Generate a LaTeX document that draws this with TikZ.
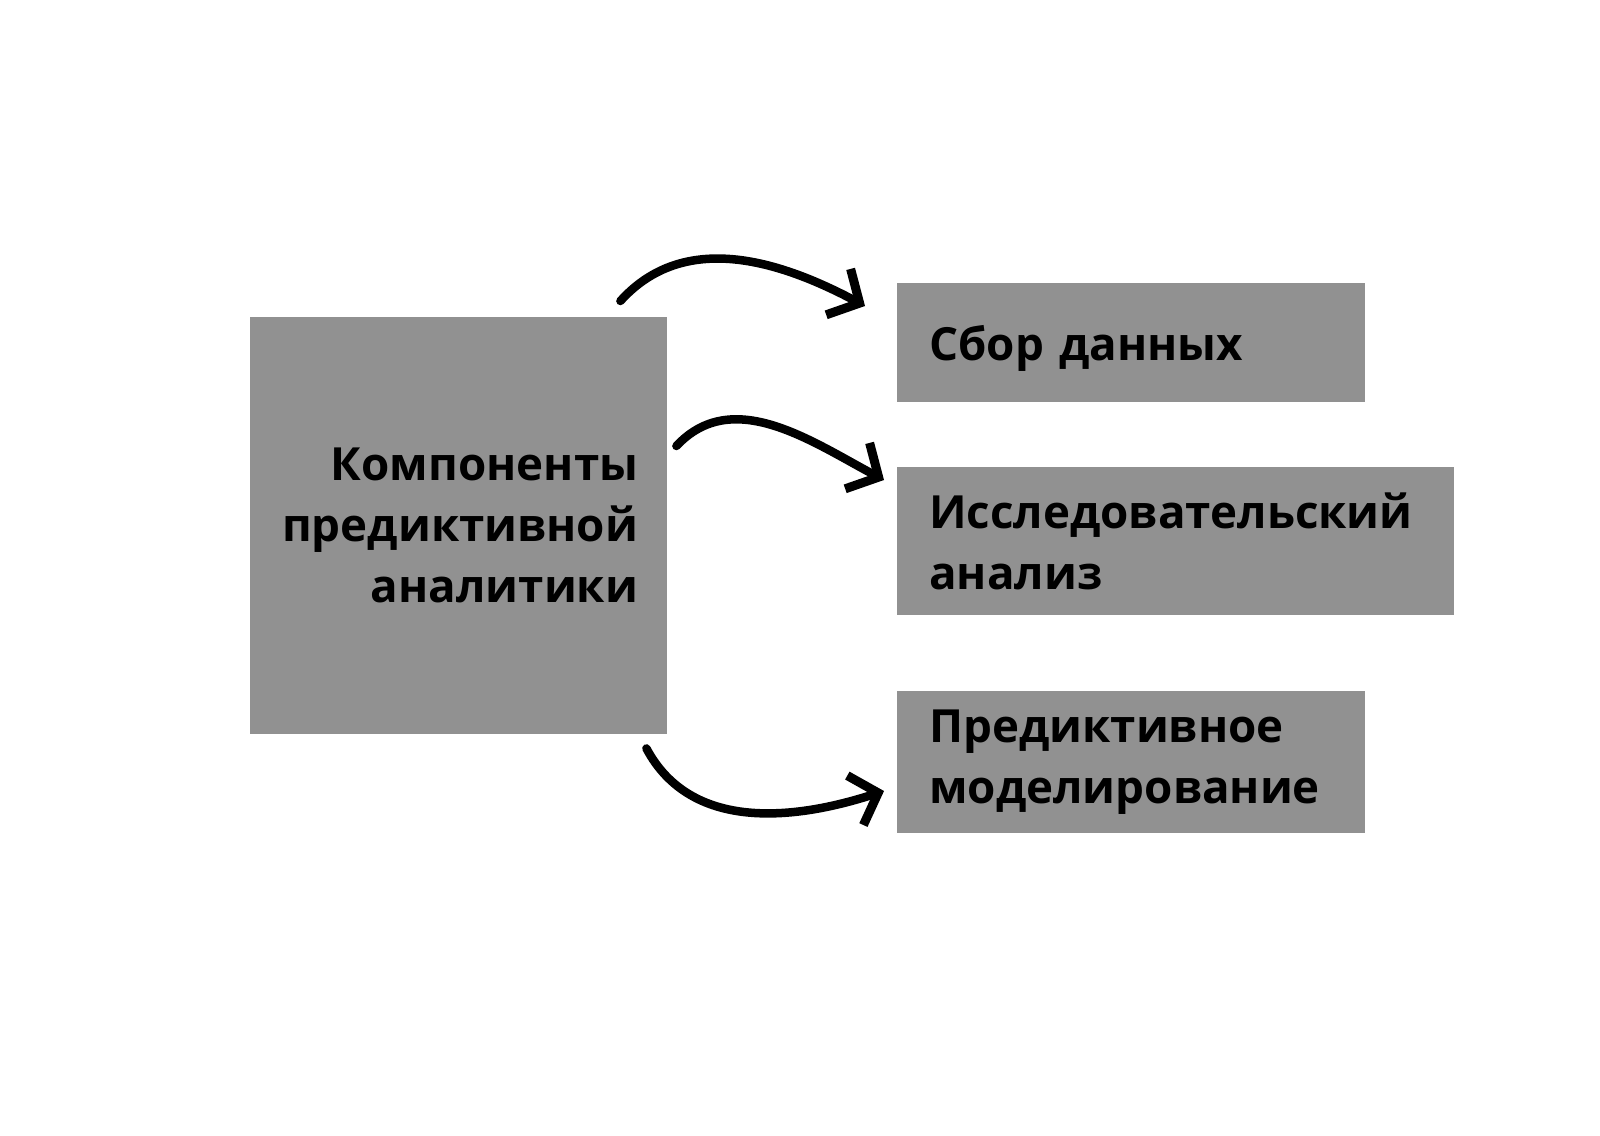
\documentclass[tikz,border=0pt]{standalone}
\usepackage{fontspec}
\setmainfont{Open Sans}
\usetikzlibrary{arrows.meta,positioning}
\definecolor{boxgray}{RGB}{145,145,145}
\tikzset{
  topic/.style={fill=boxgray, draw=none, inner xsep=29pt, text width=359pt, minimum width=417pt, minimum height=417pt, align=right, font=\bfseries\fontsize{45.7}{61}\selectfont},
  part/.style={fill=boxgray, draw=none, inner xsep=32pt, align=left, anchor=north west, font=\bfseries\fontsize{45.7}{61}\selectfont},
  hand/.style={-{Straight Barb[length=24pt, width=52pt, line width=9pt]}, line width=8.5pt, line cap=round, draw=black}
}

\begin{document}
\begin{tikzpicture}[x=1pt, y=-1pt]
  \fill[white] (0,0) rectangle (1600,1135);
  \useasboundingbox (0,0) rectangle (1600,1135);

  \node[topic, anchor=north west] (comp) at (250,317) {Компоненты\\предиктивной\\аналитики};
  \node[part, text width=404pt, minimum height=119pt, text depth=0pt] (sbor) at (897,283) {Сбор данных};
  \node[part, text width=493pt, minimum height=148pt] (eda) at (897,467) {Исследовательский\\анализ};
  \node[part, text width=404pt, minimum height=142pt] (model) at (897,691) {Предиктивное\\моделирование};

  \draw[hand] ([xshift=-47pt, yshift=16pt]comp.north east) to[out=48, in=152] ([xshift=-32pt, yshift=-23pt]sbor.north west);
  \draw[hand] ([xshift=9pt, yshift=-129pt]comp.north east) to[out=47, in=152] ([xshift=-13pt, yshift=-13pt]eda.north west);
  \draw[hand] ([xshift=-21pt, yshift=-14pt]comp.south east) to[out=-62, in=-162] ([xshift=-13pt, yshift=-100pt]model.north west);
\end{tikzpicture}
\end{document}
